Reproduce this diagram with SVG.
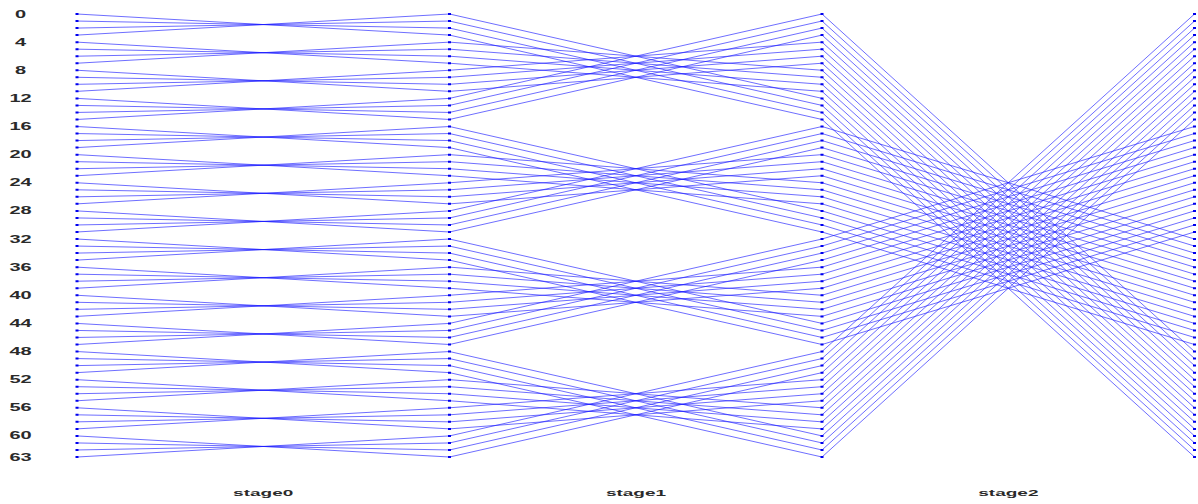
<svg xmlns="http://www.w3.org/2000/svg" width="1198" height="504" viewBox="0 0 1198 504">
<style>
.ln{fill:none;stroke:#1a1aff;stroke-width:0.8;stroke-opacity:0.8;vector-effect:non-scaling-stroke}
.dots{stroke:#0000ee;stroke-width:3;stroke-dasharray:2 5.032}
.lbl{font-family:"Liberation Sans",Arial,sans-serif;font-weight:bold;font-size:10px;fill:#2a2a2a;text-anchor:middle}
</style>
<rect width="1198" height="504" fill="#fff"/>
<g id="connectors" transform="translate(0,14) scale(1,7.032)">
<path id="stage0-lines" class="ln" d="M77 0l372.5 3M77 1l372.5 1M77 2l372.5-1M77 3l372.5-3M77 4l372.5 3M77 5l372.5 1M77 6l372.5-1M77 7l372.5-3M77 8l372.5 3M77 9l372.5 1M77 10l372.5-1M77 11l372.5-3M77 12l372.5 3M77 13l372.5 1M77 14l372.5-1M77 15l372.5-3M77 16l372.5 3M77 17l372.5 1M77 18l372.5-1M77 19l372.5-3M77 20l372.5 3M77 21l372.5 1M77 22l372.5-1M77 23l372.5-3M77 24l372.5 3M77 25l372.5 1M77 26l372.5-1M77 27l372.5-3M77 28l372.5 3M77 29l372.5 1M77 30l372.5-1M77 31l372.5-3M77 32l372.5 3M77 33l372.5 1M77 34l372.5-1M77 35l372.5-3M77 36l372.5 3M77 37l372.5 1M77 38l372.5-1M77 39l372.5-3M77 40l372.5 3M77 41l372.5 1M77 42l372.5-1M77 43l372.5-3M77 44l372.5 3M77 45l372.5 1M77 46l372.5-1M77 47l372.5-3M77 48l372.5 3M77 49l372.5 1M77 50l372.5-1M77 51l372.5-3M77 52l372.5 3M77 53l372.5 1M77 54l372.5-1M77 55l372.5-3M77 56l372.5 3M77 57l372.5 1M77 58l372.5-1M77 59l372.5-3M77 60l372.5 3M77 61l372.5 1M77 62l372.5-1M77 63l372.5-3"/>
<path id="stage1-lines" class="ln" d="M449.5 0l372.5 12M449.5 1l372.5 12M449.5 2l372.5 12M449.5 3l372.5 12M449.5 4l372.5 4M449.5 5l372.5 4M449.5 6l372.5 4M449.5 7l372.5 4M449.5 8l372.5-4M449.5 9l372.5-4M449.5 10l372.5-4M449.5 11l372.5-4M449.5 12l372.5-12M449.5 13l372.5-12M449.5 14l372.5-12M449.5 15l372.5-12M449.5 16l372.5 12M449.5 17l372.5 12M449.5 18l372.5 12M449.5 19l372.5 12M449.5 20l372.5 4M449.5 21l372.5 4M449.5 22l372.5 4M449.5 23l372.5 4M449.5 24l372.5-4M449.5 25l372.5-4M449.5 26l372.5-4M449.5 27l372.5-4M449.5 28l372.5-12M449.5 29l372.5-12M449.5 30l372.5-12M449.5 31l372.5-12M449.5 32l372.5 12M449.5 33l372.5 12M449.5 34l372.5 12M449.5 35l372.5 12M449.5 36l372.5 4M449.5 37l372.5 4M449.5 38l372.5 4M449.5 39l372.5 4M449.5 40l372.5-4M449.5 41l372.5-4M449.5 42l372.5-4M449.5 43l372.5-4M449.5 44l372.5-12M449.5 45l372.5-12M449.5 46l372.5-12M449.5 47l372.5-12M449.5 48l372.5 12M449.5 49l372.5 12M449.5 50l372.5 12M449.5 51l372.5 12M449.5 52l372.5 4M449.5 53l372.5 4M449.5 54l372.5 4M449.5 55l372.5 4M449.5 56l372.5-4M449.5 57l372.5-4M449.5 58l372.5-4M449.5 59l372.5-4M449.5 60l372.5-12M449.5 61l372.5-12M449.5 62l372.5-12M449.5 63l372.5-12"/>
<path id="stage2-lines" class="ln" d="M822 0l372.5 48M822 1l372.5 48M822 2l372.5 48M822 3l372.5 48M822 4l372.5 48M822 5l372.5 48M822 6l372.5 48M822 7l372.5 48M822 8l372.5 48M822 9l372.5 48M822 10l372.5 48M822 11l372.5 48M822 12l372.5 48M822 13l372.5 48M822 14l372.5 48M822 15l372.5 48M822 16l372.5 16M822 17l372.5 16M822 18l372.5 16M822 19l372.5 16M822 20l372.5 16M822 21l372.5 16M822 22l372.5 16M822 23l372.5 16M822 24l372.5 16M822 25l372.5 16M822 26l372.5 16M822 27l372.5 16M822 28l372.5 16M822 29l372.5 16M822 30l372.5 16M822 31l372.5 16M822 32l372.5-16M822 33l372.5-16M822 34l372.5-16M822 35l372.5-16M822 36l372.5-16M822 37l372.5-16M822 38l372.5-16M822 39l372.5-16M822 40l372.5-16M822 41l372.5-16M822 42l372.5-16M822 43l372.5-16M822 44l372.5-16M822 45l372.5-16M822 46l372.5-16M822 47l372.5-16M822 48l372.5-48M822 49l372.5-48M822 50l372.5-48M822 51l372.5-48M822 52l372.5-48M822 53l372.5-48M822 54l372.5-48M822 55l372.5-48M822 56l372.5-48M822 57l372.5-48M822 58l372.5-48M822 59l372.5-48M822 60l372.5-48M822 61l372.5-48M822 62l372.5-48M822 63l372.5-48"/>
</g>
<g id="col0"><line class="dots" x1="77" y1="13" x2="77" y2="458"/></g>
<g id="col1"><line class="dots" x1="449.5" y1="13" x2="449.5" y2="458"/></g>
<g id="col2"><line class="dots" x1="822" y1="13" x2="822" y2="458"/></g>
<g id="col3"><line class="dots" x1="1194.5" y1="13" x2="1194.5" y2="458"/></g>
<g id="row-labels" transform="scale(2,1)">
<text class="lbl" x="10.3" y="17.6">0</text>
<text class="lbl" x="10.3" y="45.7">4</text>
<text class="lbl" x="10.3" y="73.9">8</text>
<text class="lbl" x="10.3" y="102">12</text>
<text class="lbl" x="10.3" y="130.1">16</text>
<text class="lbl" x="10.3" y="158.2">20</text>
<text class="lbl" x="10.3" y="186.4">24</text>
<text class="lbl" x="10.3" y="214.5">28</text>
<text class="lbl" x="10.3" y="242.6">32</text>
<text class="lbl" x="10.3" y="270.8">36</text>
<text class="lbl" x="10.3" y="298.9">40</text>
<text class="lbl" x="10.3" y="327">44</text>
<text class="lbl" x="10.3" y="355.1">48</text>
<text class="lbl" x="10.3" y="383.3">52</text>
<text class="lbl" x="10.3" y="411.4">56</text>
<text class="lbl" x="10.3" y="439.5">60</text>
<text class="lbl" x="10.3" y="460.6">63</text>
</g>
<g id="stage-labels" transform="scale(2,1)">
<text class="lbl" x="131.6" y="496" style="font-size:9.5px">stage0</text>
<text class="lbl" x="318" y="496" style="font-size:9.5px">stage1</text>
<text class="lbl" x="504.2" y="496" style="font-size:9.5px">stage2</text>
</g>
</svg>
